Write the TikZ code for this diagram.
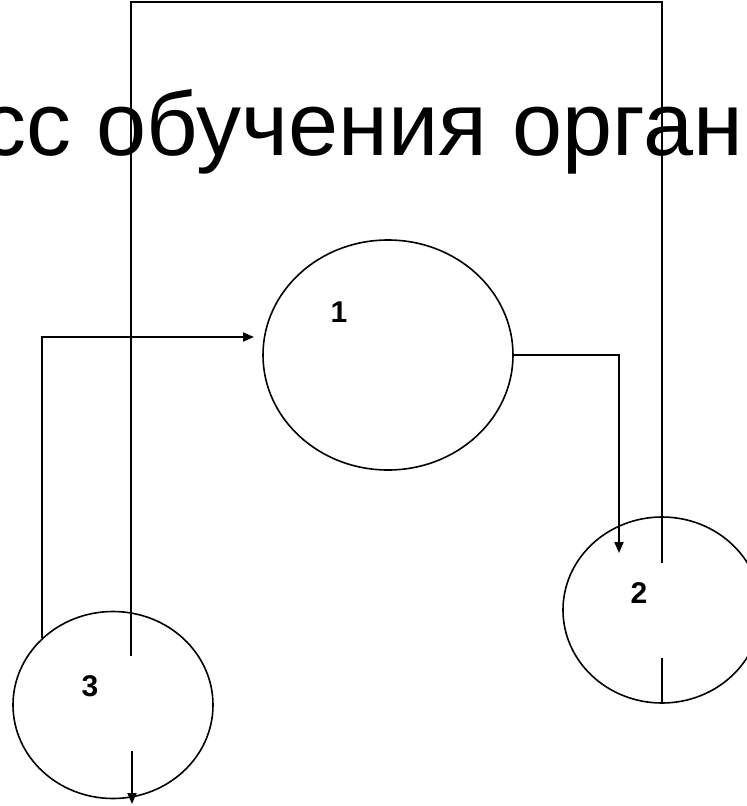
\documentclass[tikz,border=0pt]{standalone}
\usepackage{fontspec}
\setmainfont{Liberation Sans}
\usetikzlibrary{shapes.geometric,arrows.meta}
\begin{document}
\begin{tikzpicture}[x=1pt,y=-1pt,
  circ/.style={ellipse,draw,line width=1.6pt,inner sep=0pt},
  conn/.style={line width=1.8pt},
  arr/.style={conn,-{Triangle[length=11pt,width=9pt]}},
  bracket/.style={line width=1.4pt},
  lbl/.style={font=\fontsize{30}{32}\selectfont\bfseries,inner sep=0pt}]
\useasboundingbox (0,0) rectangle (747,806);
\clip (0,0) rectangle (747,806);
\node[anchor=base east,inner sep=0pt,font=\fontsize{90}{100}\selectfont] (title) at (743,155) {сс обучения орган};
\node[circ,minimum width=250pt,minimum height=230pt] (c1) at (388,355) {};
\node[circ,minimum width=198pt,minimum height=186pt] (c2) at (662,610) {};
\node[circ,minimum width=200pt,minimum height=187pt] (c3) at (113,705) {};
\node[lbl] (l1) at (339,312) {1};
\node[lbl] (l2) at (639,593) {2};
\node[lbl] (l3) at (90,686) {3};
\coordinate (t1) at (254,337);
\coordinate (t2) at (619,553);
\coordinate (b1) at (131,656);
\coordinate (b2) at (662,563);
\coordinate (s2) at (662,658);
\coordinate (s3) at (132,751);
\coordinate (e3) at (132,804);
\draw[arr] (c3.137) |- (t1);
\draw[arr] (c1.east) -| (t2);
\draw[bracket] (b1) -- ++(0,-654) -| (b2);
\draw[bracket] (s2) -- (c2.south);
\draw[arr] (s3) -- (e3);
\end{tikzpicture}
\end{document}
